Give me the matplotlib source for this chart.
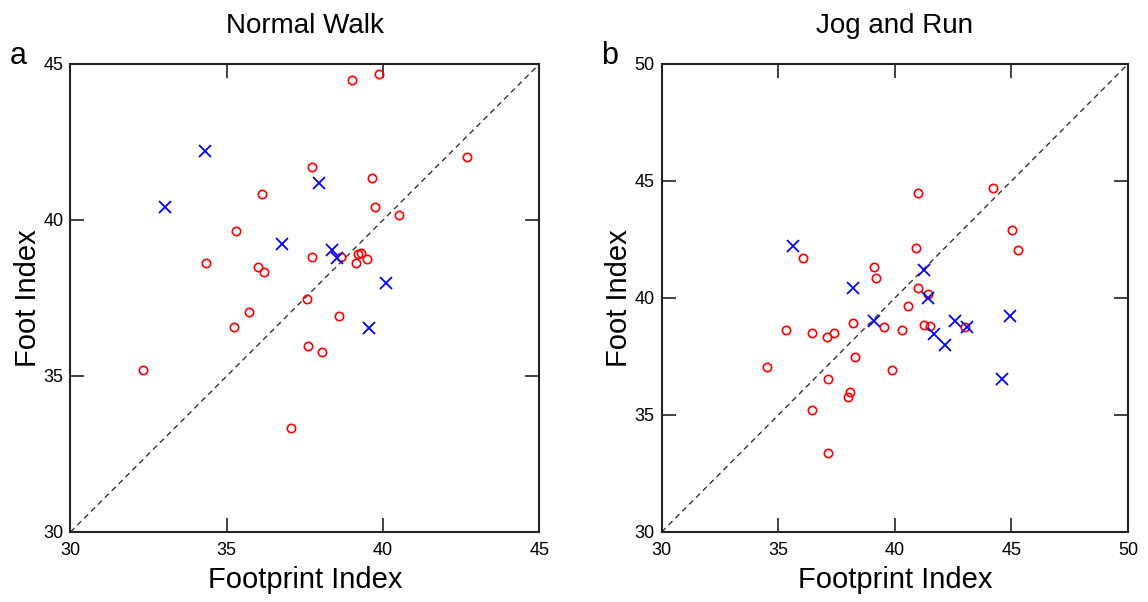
import matplotlib
matplotlib.use('Agg')
import matplotlib.pyplot as plt

plt.rcParams['font.family'] = ['Liberation Sans', 'DejaVu Sans']

# Normal Walk: red circles and blue crosses
walk_o_x = [36.13, 35.28, 34.32, 35.99, 36.19, 37.71, 39.02, 39.88, 42.67, 39.66, 39.74, 40.51, 38.64,
            37.73, 39.20, 39.28, 39.13, 39.49, 37.55, 38.59, 37.60, 38.06, 37.05, 32.31, 35.24, 35.70]
walk_o_y = [40.83, 39.66, 38.63, 38.49, 38.34, 41.71, 44.49, 44.68, 42.03, 41.34, 40.41, 40.16, 38.80,
            38.80, 38.91, 38.93, 38.61, 38.74, 37.47, 36.93, 35.97, 35.78, 33.34, 35.19, 36.56, 37.06]
walk_x_x = [34.30, 33.01, 36.77, 37.96, 38.38, 38.51, 40.09, 39.56]
walk_x_y = [42.22, 40.43, 39.22, 41.20, 39.04, 38.77, 37.99, 36.53]

# Jog and Run
run_o_x = [36.06, 39.11, 39.20, 39.54, 38.21, 35.33, 36.45, 37.09, 37.41, 38.31, 34.51, 37.15, 38.07,
           38.01, 40.99, 44.23, 45.02, 45.30, 40.90, 41.01, 41.42, 40.58, 40.31, 41.27, 41.49, 43.02,
           39.87, 36.46, 37.15]
run_o_y = [41.70, 41.34, 40.84, 38.75, 38.92, 38.62, 38.49, 38.32, 38.49, 37.47, 37.05, 36.55, 36.00,
           35.78, 44.47, 44.69, 42.91, 42.05, 42.14, 40.44, 40.17, 39.67, 38.62, 38.86, 38.82, 38.77,
           36.94, 35.20, 33.36]
run_x_x = [35.64, 38.21, 39.12, 41.26, 41.44, 41.69, 42.13, 42.59, 43.09, 44.92, 44.59]
run_x_y = [42.21, 40.41, 39.03, 41.20, 40.01, 38.47, 37.98, 39.02, 38.77, 39.23, 36.54]

panels = [
    ('a', 'Normal Walk', (30, 45), [30, 35, 40, 45], walk_o_x, walk_o_y, walk_x_x, walk_x_y),
    ('b', 'Jog and Run', (30, 50), [30, 35, 40, 45, 50], run_o_x, run_o_y, run_x_x, run_x_y),
]
boxes = [[0.0614, 0.1163, 0.4085, 0.7774], [0.5764, 0.1163, 0.4062, 0.7774]]

fig = plt.figure(figsize=(11.48, 6.02), dpi=100)

for box, (letter, title, lim, ticks, ox, oy, xx, xy) in zip(boxes, panels):
    ax = fig.add_axes(box)
    ax.plot(lim, lim, linestyle=(0, (4, 3)), color='#333333', linewidth=1.0, zorder=1)
    ax.plot(ox, oy, linestyle='none', marker='o', markersize=6, markerfacecolor='none',
            markeredgecolor='red', markeredgewidth=1.2, zorder=3)
    ax.plot(xx, xy, linestyle='none', marker='x', markersize=8, color='blue',
            markeredgewidth=1.3, zorder=3)
    ax.set_xlim(lim)
    ax.set_ylim(lim)
    ax.set_xticks(ticks)
    ax.set_yticks(ticks)
    ax.tick_params(direction='in', length=10, width=1.3, color='#333333', labelsize=13,
                   top=True, right=True, pad=5)
    ax.tick_params(axis='x', pad=7)
    for sp in ax.spines.values():
        sp.set_linewidth(1.5)
        sp.set_color('#222222')
    ax.set_xlabel('Footprint Index', fontsize=21, labelpad=5)
    ax.set_ylabel('Foot Index', fontsize=21, labelpad=1)
    ax.set_title(title, fontsize=20, pad=22)
    ax.text(-0.13, 1.0, letter, transform=ax.transAxes, fontsize=22, ha='left', va='baseline')

fig.savefig('out.png', dpi=100)
